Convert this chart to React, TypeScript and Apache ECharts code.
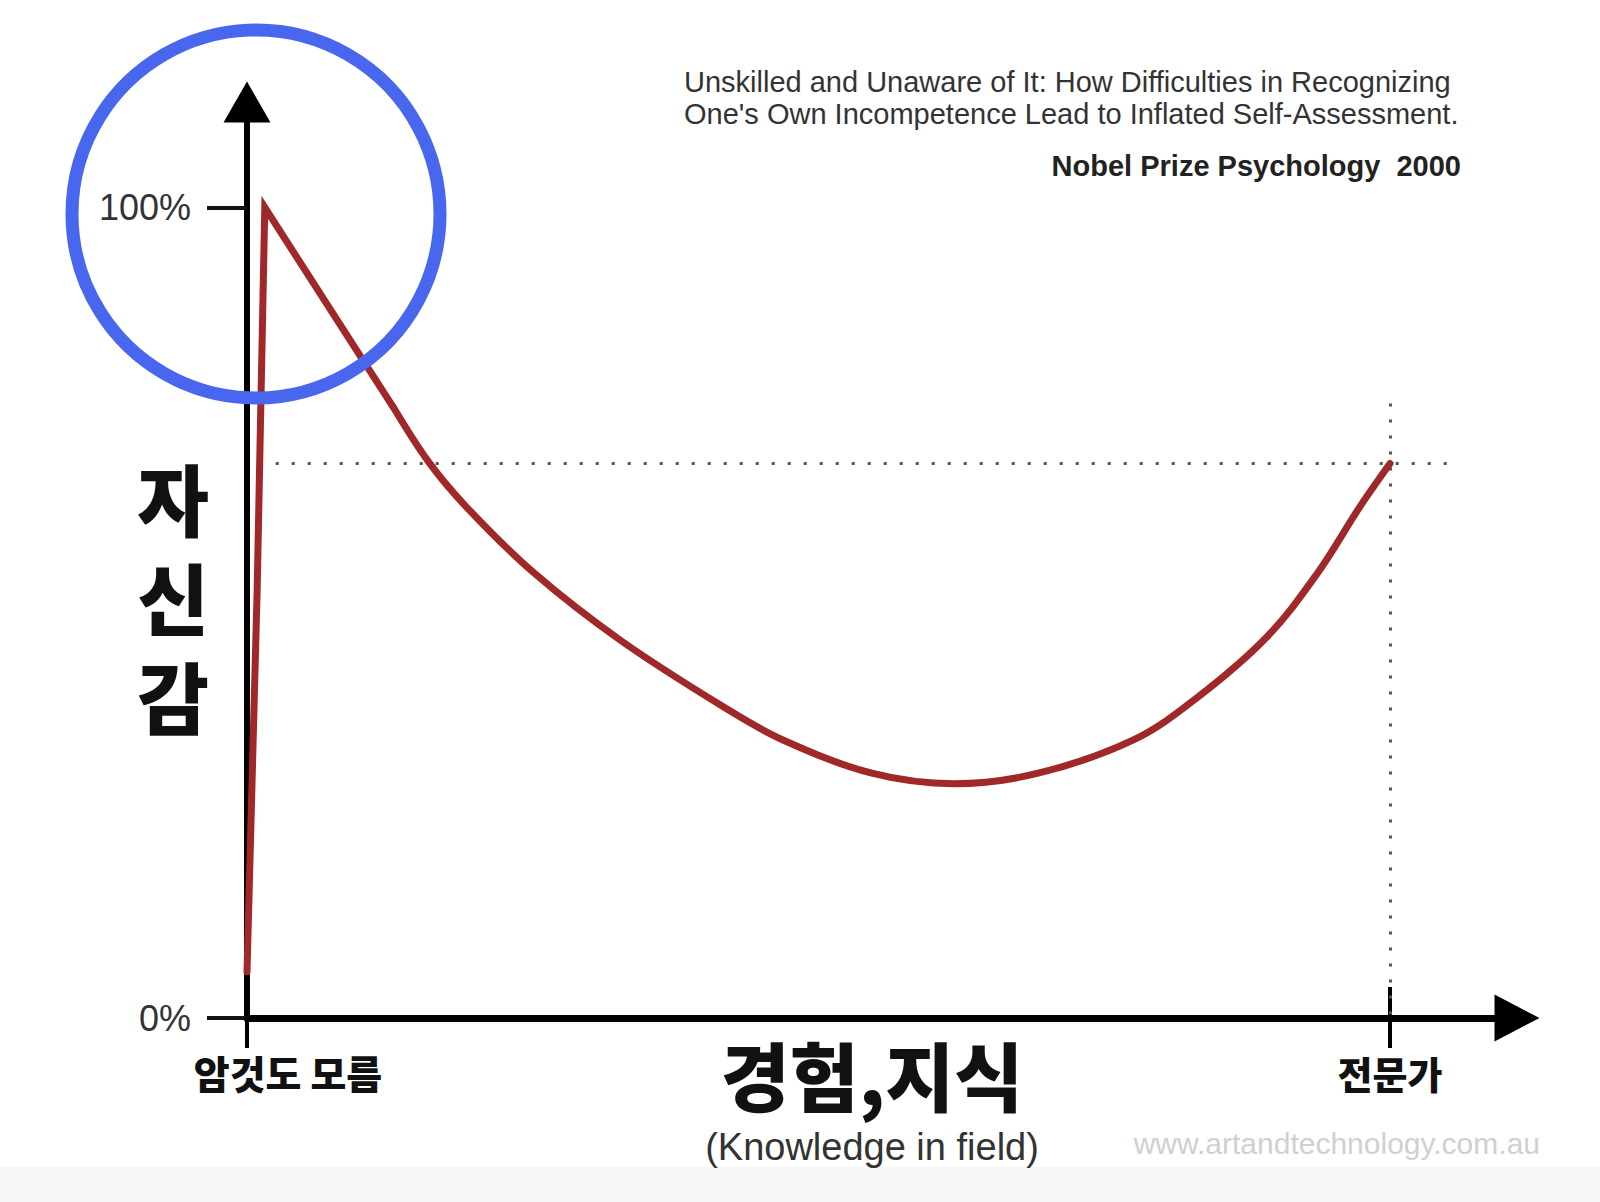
import React, { useEffect, useRef } from 'react';
import * as echarts from 'echarts';

// ---- texts ----
const titleLines = [
  'Unskilled and Unaware of It: How Difficulties in Recognizing',
  "One's Own Incompetence Lead to Inflated Self-Assessment.",
];
const subtitleText = 'Nobel Prize Psychology  2000';
const watermarkText = 'www.artandtechnology.com.au';
const yAxisNameChars = ['자', '신', '감'];
const xAxisNameMain = '경험,지식';
const xAxisNameSub = '(Knowledge in field)';

// ---- ticks ----
const xTickValues = [0, 90];
const xTickLabels = ['암것도 모름', '전문가'];
const yTickValues = [0, 100];
const yTickLabels = ['0%', '100%'];
const expertTickValues = [90];

// ---- curve (x: knowledge 0..100, y: confidence %) ----
const peakSegment: number[][] = [
  [0, 5.7], [0.8, 52.8], [1.4, 100], [8.9, 81.7], [11.5, 75.4],
];
const valleySegment: number[][] = [
  [11.5, 75.4], [14.3, 68.6], [17.3, 63.0], [22.6, 54.9], [29.4, 46.6],
  [37.6, 38.3], [42.2, 34.3], [49.2, 30.2], [55.7, 28.9], [62.3, 30.2],
  [69.8, 34.3], [74.8, 39.5], [80.3, 47.0], [84.3, 54.9], [87.6, 63.0],
  [90, 68.4],
];
const expertLevel = 68.4;
const expertX = 90;
const guideXStart = 1;
const guideXEnd = 94.5;
const guideYTop = 75.8;

const KR = '"Noto Sans CJK KR", "Noto Sans", sans-serif';
const LAT = '"Liberation Sans", Arial, Helvetica, sans-serif';

export default function App() {
  const ref = useRef<HTMLDivElement>(null);
  useEffect(() => {
    document.body.style.margin = '0';
    if (!ref.current) return;
    const chart = echarts.init(ref.current, null, { renderer: 'svg' });
    const curveColor = '#a02828';
    const option: any = {
      animation: false,
      backgroundColor: '#ffffff',
      title: [
        {
          text: titleLines.join('\n'),
          left: 684,
          top: 66,
          padding: 0,
          textStyle: { fontFamily: LAT, fontSize: 29, fontWeight: 'normal', color: '#333', lineHeight: 32 },
        },
        {
          text: subtitleText,
          right: 139,
          top: 150,
          padding: 0,
          textStyle: { fontFamily: LAT, fontSize: 29, fontWeight: 'bold', color: '#222', lineHeight: 32 },
        },
        {
          text: watermarkText,
          right: 60,
          top: 1126,
          padding: 0,
          textStyle: { fontFamily: LAT, fontSize: 30, fontWeight: 'normal', color: '#d0d0d0', lineHeight: 34 },
        },
      ],
      grid: { left: 247, right: 83, top: 102, bottom: 184, outerBoundsMode: 'none', containLabel: false },
      xAxis: [
        {
          type: 'value',
          min: 0,
          max: 100,
          splitLine: { show: false },
          axisLine: {
            show: true,
            lineStyle: { color: '#000', width: 7 },
            symbol: ['none', 'triangle'],
            symbolSize: [47, 45],
          },
          axisTick: {
            show: true,
            length: 30,
            customValues: xTickValues,
            lineStyle: { color: '#000', width: 4 },
          },
          axisLabel: {
            show: true,
            customValues: xTickValues,
            margin: 32,
            formatter: (v: number) => {
              const i = xTickValues.indexOf(v);
              if (i < 0) return '';
              return i === 0 ? `{a|${xTickLabels[i]}}` : `{b|${xTickLabels[i]}}`;
            },
            rich: {
              a: { fontFamily: KR, fontSize: 39, fontWeight: 900, color: '#111', lineHeight: 44, padding: [0, 0, 0, 82] },
              b: { fontFamily: KR, fontSize: 38, fontWeight: 900, color: '#111', lineHeight: 44 },
            },
          },
          name: `{a|${xAxisNameMain}}\n{b|${xAxisNameSub}}`,
          nameLocation: 'middle',
          nameGap: 13,
          nameMoveOverlap: false,
          nameTextStyle: {
            padding: [0, 20, 0, 0],
            rich: {
              a: { fontFamily: KR, fontSize: 75, fontWeight: 900, color: '#111', lineHeight: 84 },
              b: { fontFamily: LAT, fontSize: 38, color: '#333', lineHeight: 64 },
            },
          },
        },
        {
          type: 'value',
          min: 0,
          max: 100,
          position: 'bottom',
          splitLine: { show: false },
          axisLine: { show: false },
          axisTick: {
            show: true,
            inside: true,
            length: 31,
            customValues: expertTickValues,
            lineStyle: { color: '#000', width: 4 },
          },
          axisLabel: { show: false },
        },
      ],
      yAxis: {
        type: 'value',
        min: 0,
        max: 113,
        splitLine: { show: false },
        axisLine: {
          show: true,
          lineStyle: { color: '#000', width: 6 },
          symbol: ['none', 'triangle'],
          symbolSize: [47, 41],
        },
        axisTick: {
          show: true,
          length: 40,
          customValues: yTickValues,
          lineStyle: { color: '#111', width: 4 },
        },
        axisLabel: {
          show: true,
          customValues: yTickValues,
          margin: 56,
          fontFamily: LAT,
          fontSize: 36,
          color: '#333',
          formatter: (v: number) => {
            const i = yTickValues.indexOf(v);
            return i < 0 ? '' : yTickLabels[i];
          },
        },
        name: ['{s| }', ...yAxisNameChars.map((c) => `{a|${c}}`)].join('\n'),
        nameLocation: 'middle',
        nameRotate: 0,
        nameGap: 38,
        nameMoveOverlap: false,
        nameTextStyle: {
          rich: {
            s: { fontSize: 10, lineHeight: 72 },
            a: { fontFamily: KR, fontSize: 78, fontWeight: 900, color: '#111', lineHeight: 99 },
          },
        },
      },
      series: [
        {
          type: 'line',
          xAxisIndex: 0,
          data: peakSegment,
          smooth: false,
          showSymbol: false,
          symbol: 'none',
          z: 3,
          lineStyle: { color: curveColor, width: 7, cap: 'round', join: 'miter' },
        },
        {
          type: 'line',
          xAxisIndex: 0,
          data: valleySegment,
          smooth: 0.35,
          showSymbol: false,
          symbol: 'none',
          z: 3,
          lineStyle: { color: curveColor, width: 7, cap: 'round', join: 'round' },
          markLine: {
            silent: true,
            z: 1,
            symbol: ['none', 'none'],
            label: { show: false },
            lineStyle: { color: '#555', width: 3, type: [3, 13] },
            data: [
              [{ coord: [guideXStart, expertLevel] }, { coord: [guideXEnd, expertLevel] }],
              [{ coord: [expertX, guideYTop] }, { coord: [expertX, 0] }],
            ],
          },
        },
      ],
      graphic: [
        {
          type: 'rect',
          silent: true,
          z: 0,
          shape: { x: 0, y: 1167, width: 1600, height: 35 },
          style: { fill: '#f8f8f8' },
        },
        {
          type: 'circle',
          silent: true,
          z: 100,
          shape: { cx: 256, cy: 214, r: 184 },
          style: { fill: 'none', stroke: '#4867ee', lineWidth: 13 },
        },
      ],
    };
    chart.setOption(option);
    return () => chart.dispose();
  }, []);
  return <div ref={ref} style={{ width: 1600, height: 1202 }} />;
}
